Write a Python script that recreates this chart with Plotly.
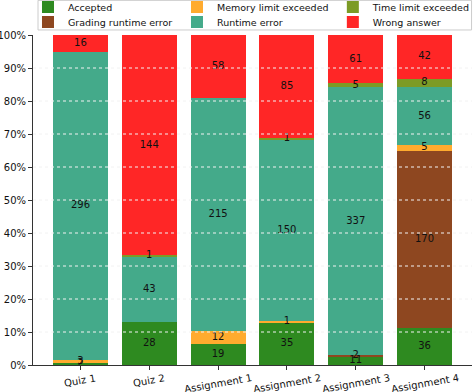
import plotly.graph_objects as go

categories = ["Quiz 1", "Quiz 2", "Assignment 1", "Assignment 2", "Assignment 3", "Assignment 4"]
accepted = [2, 28, 19, 35, 11, 36]
grading_runtime_error = [0, 0, 0, 0, 2, 170]
memory_limit_exceeded = [3, 0, 12, 1, 0, 5]
runtime_error = [296, 43, 215, 150, 337, 56]
time_limit_exceeded = [0, 1, 0, 1, 5, 8]
wrong_answer = [16, 144, 58, 85, 61, 42]
y_ticks = [0, 0.1, 0.2, 0.3, 0.4, 0.5, 0.6, 0.7, 0.8, 0.9, 1.0]

# name, values, colour, legend id, legend column x (paper), legend row y (paper)
series = [
    ("Accepted", accepted, "#2e8a20", "legend", -0.0114, 1.0848),
    ("Grading runtime error", grading_runtime_error, "#8e4720", "legend2", -0.0114, 1.0394),
    ("Memory limit exceeded", memory_limit_exceeded, "#ffab2e", "legend3", 0.328, 1.0848),
    ("Runtime error", runtime_error, "#44aa8a", "legend4", 0.328, 1.0394),
    ("Time limit exceeded", time_limit_exceeded, "#7c9b26", "legend5", 0.683, 1.0848),
    ("Wrong answer", wrong_answer, "#ff2626", "legend6", 0.683, 1.0394),
]

totals = [sum(s[1][i] for s in series) for i in range(len(categories))]

fig = go.Figure()
base = [0.0] * len(categories)
lab_x, lab_y, lab_t = [], [], []
legend_layout = {}
for name, vals, color, lg, lx, ly in series:
    fr = [v / t for v, t in zip(vals, totals)]
    fig.add_trace(go.Bar(
        x=categories, y=fr, name=name, marker=dict(color=color, line=dict(width=0)),
        legend=lg, width=0.8, hoverinfo="skip"))
    legend_layout[lg] = dict(x=lx, xanchor="left", y=ly, yanchor="middle",
                             bgcolor="rgba(0,0,0,0)", borderwidth=0,
                             font=dict(family="DejaVu Sans", size=9.5, color="#111111"),
                             itemwidth=30)
    for i, (v, f) in enumerate(zip(vals, fr)):
        if v > 0:
            lab_x.append(categories[i])
            lab_y.append(base[i] + f / 2)
            lab_t.append(str(v))
        base[i] += f

fig.add_trace(go.Scatter(
    x=lab_x, y=lab_y, text=lab_t, mode="text", showlegend=False,
    textfont=dict(family="DejaVu Sans", size=10, color="#111111"), hoverinfo="skip"))

for yv in y_ticks[1:-1]:
    fig.add_shape(type="line", xref="paper", x0=0, x1=1, yref="y", y0=yv, y1=yv,
                  line=dict(color="#f2f2f2", width=1, dash="dot"), layer="above")

# legend frame
fig.add_shape(type="rect", xref="paper", yref="paper", x0=0.0114, x1=0.999, y0=1.0152, y1=1.105,
              line=dict(color="#cccccc", width=1), fillcolor="white", layer="below")

for c in categories:
    fig.add_annotation(x=c, xref="x", y=0, yref="paper", yanchor="top", yshift=-5,
                       text=c, showarrow=False, textangle=-10,
                       font=dict(family="DejaVu Sans", size=10, color="#111111"))

fig.update_layout(
    barmode="stack",
    width=474, height=392,
    margin=dict(l=33, r=2, t=35, b=27, autoexpand=False),
    plot_bgcolor="white", paper_bgcolor="white",
    font=dict(family="DejaVu Sans", size=10, color="#111111"),
    xaxis=dict(range=[-0.69, 5.69], showticklabels=False, showgrid=False,
               showline=True, linecolor="#333333", linewidth=1,
               ticks="outside", ticklen=4, tickcolor="#333333"),
    yaxis=dict(range=[0, 1], tickvals=y_ticks, tickformat=".0%", showgrid=False,
               showline=True, linecolor="#333333", linewidth=1, zeroline=False,
               ticks="outside", ticklen=4, tickcolor="#333333"),
    bargap=0.2,
    **legend_layout,
)

fig.write_html("out.html", post_script="document.body.style.margin='0';",
               config={"displayModeBar": False})
